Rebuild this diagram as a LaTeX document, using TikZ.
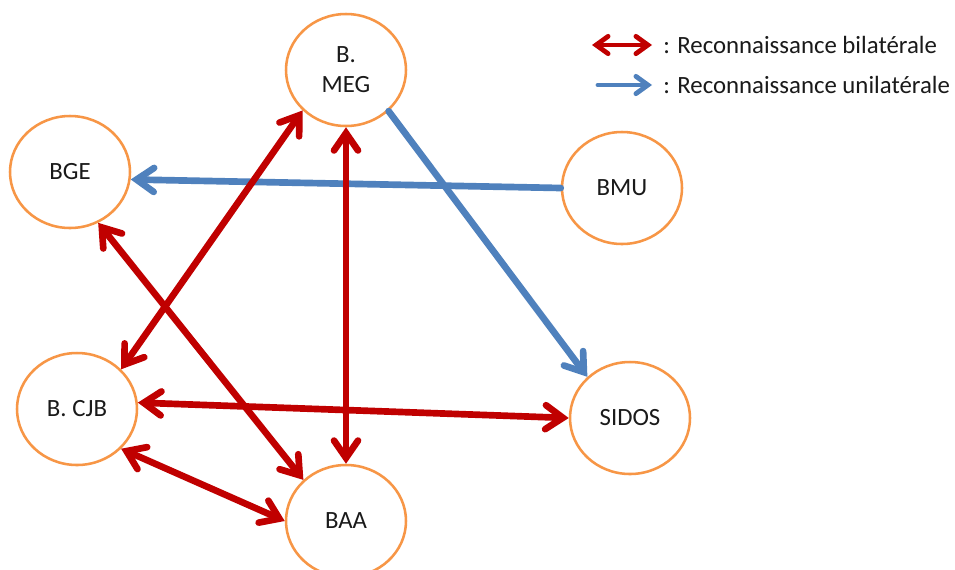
\documentclass[tikz,border=0pt]{standalone}
\usepackage{fontspec}
\setmainfont{Carlito}
\usetikzlibrary{shapes.geometric,arrows.meta}
\definecolor{bred}{HTML}{C00000}
\definecolor{bblue}{HTML}{4F81BD}
\definecolor{borange}{HTML}{F79646}
\definecolor{btext}{HTML}{1A1A1A}
\begin{document}
\begin{tikzpicture}[x=0.75pt,y=-0.75pt,
  org/.style={ellipse,draw=borange,line width=1.9pt,fill=white,minimum width=90pt,minimum height=84pt,inner sep=0pt,align=center,text=btext,font=\fontsize{18.6}{22.5}\selectfont},
  bil/.style={draw=bred,line width=5pt,line cap=round,{Straight Barb[length=13pt,width=18pt,line cap=round]}-{Straight Barb[length=13pt,width=18pt,line cap=round]}},
  uni/.style={draw=bblue,line width=5pt,line cap=round,-{Straight Barb[length=13pt,width=18pt,line cap=round]}},
  lbil/.style={draw=bred,line width=3.6pt,line cap=round,{Straight Barb[length=9pt,width=13pt,line cap=round]}-{Straight Barb[length=9pt,width=13pt,line cap=round]}},
  luni/.style={draw=bblue,line width=3.6pt,line cap=round,-{Straight Barb[length=9pt,width=13pt,line cap=round]}},
  leg/.style={anchor=west,inner sep=0pt,text=btext,font=\fontsize{18.6}{22.5}\selectfont}]
\useasboundingbox (0,0) rectangle (955,569);
\fill[white] (0,0) rectangle (955,569);
% nodes
\node[org] (meg) at (346,70) {B.\\MEG};
\node[org] (bge) at (70,172) {BGE};
\node[org] (bmu) at (622,188) {BMU};
\node[org] (cjb) at (77,409) {B. CJB};
\node[org] (sidos) at (630,418) {SIDOS};
\node[org] (baa) at (346,521) {BAA};
% connectors
\draw[uni] (bmu.west) -- (bge.-7);
\draw[uni] (meg.-44) -- (sidos.136);
\draw[bil] (meg.223) -- (cjb.42);
\draw[bil] (meg.south) -- (baa.north);
\draw[bil] (bge.-61) -- (baa.136);
\draw[bil] (cjb.6) -- (sidos.west);
\draw[bil] (cjb.-42) -- (baa.west);
% legend
\coordinate (l1a) at (592,45);
\coordinate (l1b) at (652,45);
\coordinate (l2a) at (598,85);
\coordinate (l2b) at (652,85);
\draw[lbil] (l1a) -- (l1b);
\draw[luni] (l2a) -- (l2b);
\node[leg] (t1) at (663,45) {: Reconnaissance bilatérale};
\node[leg] (t2) at (663,85) {: Reconnaissance unilatérale};
\end{tikzpicture}
\end{document}
